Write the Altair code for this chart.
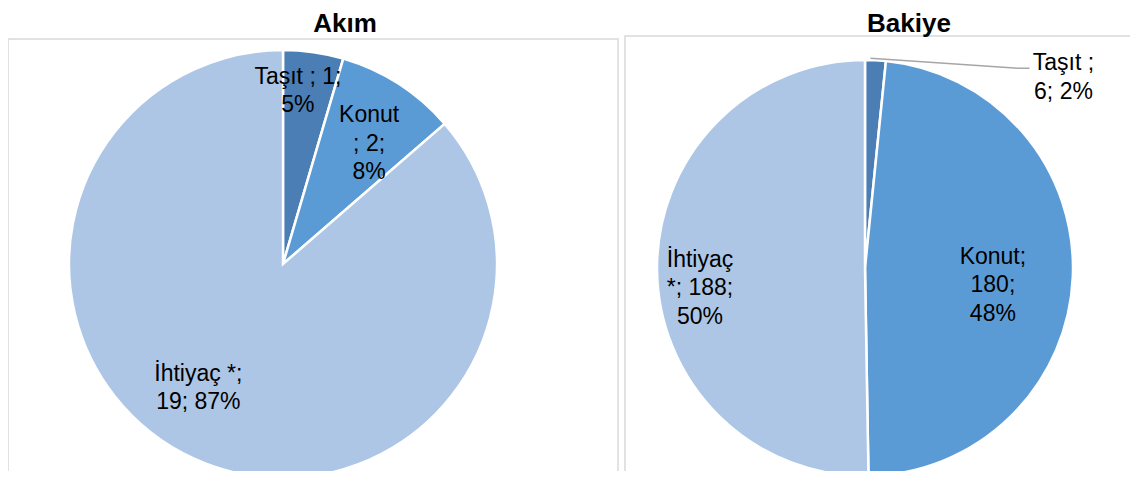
import math
import altair as alt
import pandas as pd

# ---- data ----
charts = ["Akım", "Akım", "Akım", "Bakiye", "Bakiye", "Bakiye"]
names = ["Taşıt", "Konut", "İhtiyaç", "Taşıt", "Konut", "İhtiyaç"]
values = [1, 2, 19, 6, 180, 188]
pcts = [5, 8, 87, 2, 48, 50]
order = [0, 1, 2, 0, 1, 2]
labels = [
    "Taşıt ; 1;\n5%", "Konut\n; 2;\n8%", "İhtiyaç *;\n19; 87%",
    "Taşıt ;\n6; 2%", "Konut;\n180;\n48%", "İhtiyaç\n*; 188;\n50%",
]
titles = ["Akım", "Bakiye"]
cat_names = ["Taşıt", "Konut", "İhtiyaç"]
cat_colors = ["#4A7EB4", "#5B9BD5", "#ADC6E5"]

df = pd.DataFrame({"chart": charts, "name": names, "value": values,
                   "pct": pcts, "idx": order, "label": labels})

FONT = "Liberation Sans"
W, H = 1122, 463
LH = 28.5

# pie geometry (chart pixel space)
geo = {"Akım": dict(cx=275, cy=256, r=214), "Bakiye": dict(cx=857, cy=260, r=208)}

theta_scale = alt.Scale(domain=[0, 1], range=[0, 2 * math.pi])
color_scale = alt.Scale(domain=cat_names, range=cat_colors)

base = (
    alt.Chart(df)
    .transform_joinaggregate(total="sum(value)", groupby=["chart"])
    .transform_window(cum="sum(value)", groupby=["chart"], sort=[{"field": "idx"}])
    .transform_calculate(
        start="(datum.cum - datum.value) / datum.total",
        end="datum.cum / datum.total",
        mid="(datum.cum - datum.value / 2) / datum.total",
    )
)

layers = []

# frames
frames = pd.DataFrame({"k": [0]})
layers.append(
    alt.Chart(frames).mark_rect(fillOpacity=0, stroke="#d9d9d9", strokeWidth=1.5)
    .encode(x=alt.value(0), x2=alt.value(610), y=alt.value(31), y2=alt.value(H + 20))
)
layers.append(
    alt.Chart(frames).mark_rect(fillOpacity=0, stroke="#d9d9d9", strokeWidth=1.5)
    .encode(x=alt.value(617), x2=alt.value(W + 30), y=alt.value(28), y2=alt.value(470))
)

# titles
title_pos = {"Akım": 337, "Bakiye": 901}
tdf = pd.DataFrame({"t": titles})
for t in titles:
    layers.append(
        alt.Chart(tdf).transform_filter(alt.datum.t == t)
        .mark_text(font=FONT, fontSize=26, fontWeight="bold", color="#000000",
                   align="center", baseline="alphabetic")
        .encode(text="t:N", x=alt.value(title_pos[t]), y=alt.value(23.5))
    )

# pies
for c in ["Akım", "Bakiye"]:
    g = geo[c]
    layers.append(
        base.transform_filter(alt.datum.chart == c)
        .mark_arc(outerRadius=g["r"], stroke="white", strokeWidth=2.5)
        .encode(
            theta=alt.Theta("start:Q", scale=theta_scale),
            theta2="end:Q",
            color=alt.Color("name:N", scale=color_scale, legend=None),
            x=alt.value(g["cx"]), y=alt.value(g["cy"]),
        )
    )

# data labels: (chart, name) -> radius, dx, dy (dy = offset of the block centre)
label_place = {
    ("Akım", "Taşıt"): (175, -10, 0),
    ("Akım", "Konut"): (150, 5, 6),
    ("Akım", "İhtiyaç"): (146, -24, -9),
    ("Bakiye", "Taşıt"): (208, 188, 17),
    ("Bakiye", "Konut"): (129, -1, 12),
    ("Bakiye", "İhtiyaç"): (165, 0, 19),
}
lab_of = {(c, n): l for c, n, l in zip(charts, names, labels)}
for (c, n), (rad, dx, dy) in label_place.items():
    g = geo[c]
    nlines = lab_of[(c, n)].count("\n") + 1
    layers.append(
        base.transform_filter((alt.datum.chart == c) & (alt.datum.name == n))
        .mark_text(font=FONT, fontSize=23, lineHeight=LH, lineBreak="\n",
                   color="#000000", align="center", baseline="middle",
                   radius=rad, dx=dx, dy=dy - (nlines - 1) * LH / 2)
        .encode(
            theta=alt.Theta("mid:Q", scale=theta_scale),
            text="label:N",
            x=alt.value(g["cx"]), y=alt.value(g["cy"]),
        )
    )

# leader line for Bakiye / Taşıt
g = geo["Bakiye"]
sub = df[df.chart == "Bakiye"]
tot = sub.value.sum()
m = (sub.value.iloc[0] / 2) / tot * 2 * math.pi
sx = g["cx"] + g["r"] * math.sin(m) - 5
sy = g["cy"] - g["r"] * math.cos(m) - 2
lx = g["cx"] + g["r"] * math.sin(m) + 188
ly = g["cy"] - g["r"] * math.cos(m) + 15
leader = pd.DataFrame({"px": [sx, lx - 45, lx - 34], "py": [sy, ly - 7, ly - 7], "o": [0, 1, 2]})
layers.append(
    alt.Chart(leader).mark_line(color="#a6a6a6", strokeWidth=1.3)
    .encode(x=alt.X("px:Q", scale=None, axis=None),
            y=alt.Y("py:Q", scale=None, axis=None),
            order="o:Q")
)

chart = (
    alt.layer(*layers)
    .resolve_scale(theta="shared")
    .properties(width=W, height=H, padding=0, autosize="none", background="white")
    .configure_view(stroke=None)
)

chart.save("out.html", embed_options={"renderer": "svg", "actions": False})
